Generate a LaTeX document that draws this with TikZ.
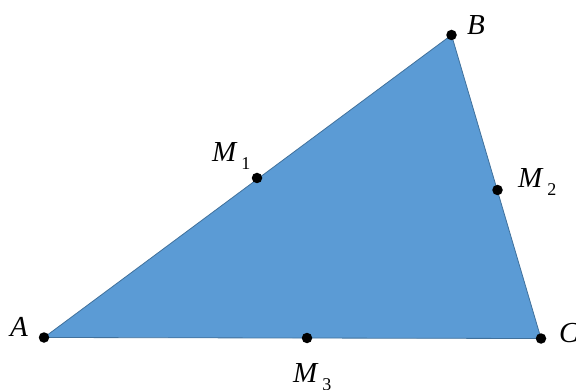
\documentclass[tikz,border=0pt]{standalone}
\usepackage{fontspec}
\setmainfont{Liberation Serif}
\usetikzlibrary{positioning}
\definecolor{triblue}{RGB}{91,155,213}
\definecolor{triedge}{RGB}{65,113,156}
\tikzset{
  tridot/.style={circle, fill=black, inner sep=0pt, minimum size=10.5pt},
  trilbl/.style={font=\fontsize{29}{30}\selectfont\itshape, inner sep=0pt, anchor=base west},
}
\newcommand{\msub}[1]{M\hspace{5pt}\raisebox{-8pt}{\fontsize{18}{20}\selectfont\upshape #1}}

\begin{document}
\begin{tikzpicture}[x=1pt, y=-1pt]
  \useasboundingbox (0,0) rectangle (576,390);
  % ---- vertices ----
  \coordinate (A) at (44,337.5);
  \coordinate (B) at (451.5,35);
  \coordinate (C) at (541,338.5);
  % ---- triangle ----
  \filldraw[fill=triblue, draw=triedge, line width=0.8pt] (A) -- (B) -- (C) -- cycle;
  % ---- points ----
  \node[tridot] at (A) (dA) {};
  \node[tridot] at (B) (dB) {};
  \node[tridot] at (C) (dC) {};
  \node[tridot] at (257,178) (dM1) {};
  \node[tridot] at (497.5,190) (dM2) {};
  \node[tridot] at (307,338) (dM3) {};
  % ---- labels ----
  \node[trilbl] at (10,337) (lA) {A};
  \node[trilbl] at (467,35) (lB) {B};
  \node[trilbl] at (559,342) (lC) {C};
  \node[trilbl] at (212,162) (lM1) {\msub{1}};
  \node[trilbl] at (518,188) (lM2) {\msub{2}};
  \node[trilbl] at (293,382) (lM3) {\msub{3}};
\end{tikzpicture}
\end{document}
